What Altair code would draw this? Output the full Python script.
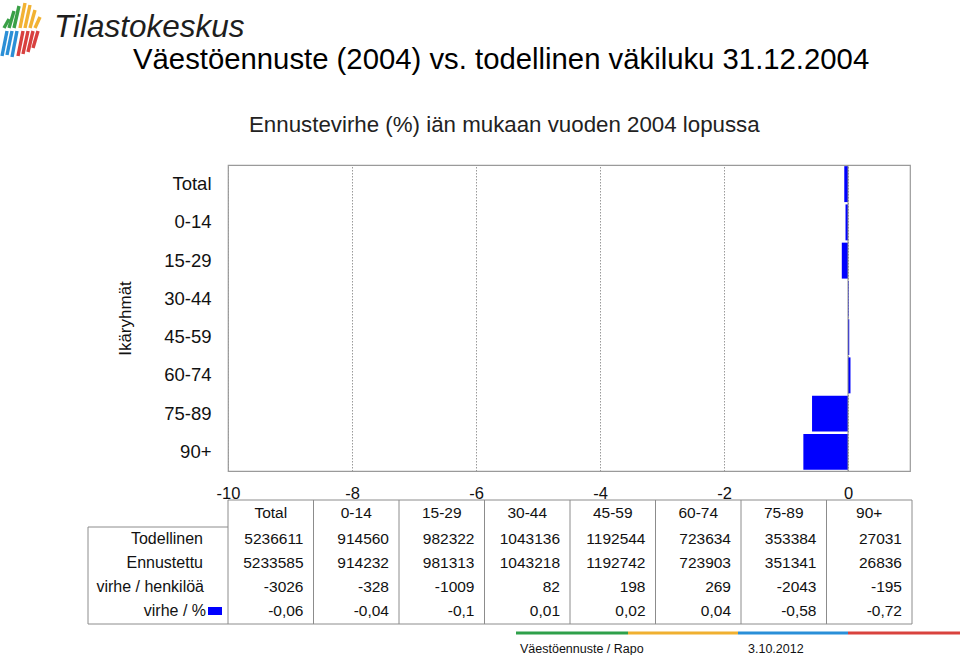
import altair as alt
import pandas as pd

# ---------------- data ----------------
groups = ["Total", "0-14", "15-29", "30-44", "45-59", "60-74", "75-89", "90+"]
todellinen = [5236611, 914560, 982322, 1043136, 1192544, 723634, 353384, 27031]
ennustettu = [5233585, 914232, 981313, 1043218, 1192742, 723903, 351341, 26836]
virhe_hlo = [-3026, -328, -1009, 82, 198, 269, -2043, -195]
virhe_pct = [-0.06, -0.04, -0.1, 0.01, 0.02, 0.04, -0.58, -0.72]
row_labels = ["Todellinen", "Ennustettu", "virhe / henkilöä", "virhe / %"]
x_ticks = [-10, -8, -6, -4, -2, 0]

title_text = "Väestöennuste (2004) vs. todellinen väkiluku 31.12.2004"
subtitle_text = "Ennustevirhe (%) iän mukaan vuoden 2004 lopussa"
footer_left = "Väestöennuste / Rapo"
footer_right = "3.10.2012"
logo_text = "Tilastokeskus"

FONT = "Liberation Sans"
BLUE = "#0000FF"
W, H = 682, 306          # plot area
TW = 684                 # table width
COLW = TW / len(groups)

# ---------------- bar chart ----------------
bars_df = pd.DataFrame({"group": groups, "pct": virhe_pct})

yscale = alt.Scale(domain=groups, paddingInner=0.06, paddingOuter=0.03)
bars = alt.Chart(bars_df).mark_bar(color=BLUE).encode(
    y=alt.Y("group:N", scale=yscale, sort=groups,
            axis=alt.Axis(title="Ikäryhmät", labelFontSize=18.5, labelColor="#111",
                          labelPadding=17, ticks=False, domain=False,
                          titleFontSize=17, titleFontWeight="normal",
                          titleColor="#111", titlePadding=29, labelFont=FONT,
                          titleFont=FONT)),
    x=alt.X("pct:Q", scale=alt.Scale(domain=[-10, 1], nice=False),
            axis=alt.Axis(title=None, values=x_ticks, labelFontSize=16.5,
                          labelColor="#111", labelPadding=14, ticks=False,
                          domain=False, grid=True, gridDash=[1.5, 1.5],
                          gridColor="#9a9a9a", labelFont=FONT, labelFlush=False,
                          labelOverlap=False,
                          labelExpr="'' + datum.value")),
)

zero_rule = alt.Chart(pd.DataFrame({"z": [0]})).mark_rule(
    color="#8c8c8c", strokeWidth=1).encode(
    x=alt.X("z:Q", scale=alt.Scale(domain=[-10, 1], nice=False), axis=None))

# ---------------- table ----------------
rows_long = []
for i, g in enumerate(groups):
    rows_long.append({"group": g, "row": row_labels[0], "txt": str(todellinen[i])})
    rows_long.append({"group": g, "row": row_labels[1], "txt": str(ennustettu[i])})
    rows_long.append({"group": g, "row": row_labels[2], "txt": str(virhe_hlo[i])})
    rows_long.append({"group": g, "row": row_labels[3],
                      "txt": str(virhe_pct[i]).replace(".", ",")})
table_df = pd.DataFrame(rows_long)

tx = alt.X("group:N", scale=alt.Scale(type="point", domain=groups, range=[0, TW],
                                      padding=0.5), axis=None)
ty = alt.Y("row:N", scale=alt.Scale(type="point", domain=row_labels,
                                    range=[374, 446], padding=0), axis=None)

cells = alt.Chart(table_df).mark_text(
    align="right", baseline="middle", dx=COLW / 2 - 10, fontSize=15.5,
    font=FONT, color="#111").encode(x=tx, y=ty, text="txt:N")

headers = alt.Chart(pd.DataFrame({"group": groups})).mark_text(
    align="center", baseline="middle", fontSize=15.5, font=FONT,
    color="#111").encode(x=tx, y=alt.value(348), text="group:N")

rowlab_df = pd.DataFrame({"row": row_labels,
                          "off": [-25, -25, -24, -22]})
rowlabs = alt.Chart(rowlab_df).mark_text(
    align="right", baseline="middle", fontSize=16, font=FONT,
    color="#111").encode(x=alt.X("off:Q", scale=None), y=ty, text="row:N")

swatch = alt.Chart(pd.DataFrame({"row": [row_labels[3]]})).mark_rule(
    color=BLUE, strokeWidth=8).encode(
    x=alt.value(-20), x2=alt.value(-6), y=ty)

# table lines (column boundaries through a linear scale)
bounds = list(range(len(groups) + 1))
vlines = alt.Chart(pd.DataFrame({"b": bounds})).mark_rule(
    color="#8c8c8c", strokeWidth=1).encode(
    x=alt.X("b:Q", scale=alt.Scale(domain=[0, len(groups)], range=[0, TW]),
            axis=None),
    y=alt.value(335), y2=alt.value(459))

hl_df = pd.DataFrame({"x": [0, -140, -140], "x2": [TW, TW, 0],
                      "y": [335, 459, 362]})
hlines = alt.Chart(hl_df).mark_rule(color="#8c8c8c", strokeWidth=1).encode(
    x=alt.X("x:Q", scale=None), x2="x2:Q", y=alt.Y("y:Q", scale=None))
lbox = alt.Chart(pd.DataFrame({"x": [-140]})).mark_rule(
    color="#8c8c8c", strokeWidth=1).encode(
    x=alt.X("x:Q", scale=None), y=alt.value(362), y2=alt.value(459))

# ---------------- titles ----------------
title = alt.Chart(pd.DataFrame({"t": [title_text]})).mark_text(
    align="left", baseline="alphabetic", fontSize=29.3, font=FONT,
    color="#000").encode(x=alt.value(-95), y=alt.value(-96), text="t:N")
subtitle = alt.Chart(pd.DataFrame({"t": [subtitle_text]})).mark_text(
    align="left", baseline="alphabetic", fontSize=22.3, font=FONT,
    color="#222").encode(x=alt.value(249 - 228), y=alt.value(-33), text="t:N")

# ---------------- logo ----------------
logo = alt.Chart(pd.DataFrame({"t": [logo_text]})).mark_text(
    align="left", baseline="alphabetic", fontSize=31.5, font=FONT,
    fontStyle="italic", color="#1e1e1e").encode(
    x=alt.value(-174), y=alt.value(-128), text="t:N")

logo_strokes = pd.DataFrame({
    "x":  [4, 9, 14, 20, 25, 30, 35,  2, 7, 12, 18, 23, 28, 33],
    "x2": [9, 14, 19, 25, 30, 35, 40, 7, 12, 17, 23, 28, 33, 38],
    "y":  [28, 28, 28, 28, 28, 28, 28, 56, 55, 57, 56, 54, 52, 48],
    "y2": [19, 11, 6, 3, 5, 10, 17, 31, 31, 31, 31, 31, 31, 31],
    "c":  ["#3aa047", "#3aa047", "#3aa047", "#f2b233", "#f2b233", "#f2b233", "#f2b233",
           "#2b8fd6", "#2b8fd6", "#2b8fd6", "#d8403f", "#d8403f", "#d8403f", "#d8403f"],
})
logo_df = logo_strokes.assign(x=logo_strokes.x - 228, x2=logo_strokes.x2 - 228,
                              y=logo_strokes.y - 165, y2=logo_strokes.y2 - 165)
logo_marks = alt.Chart(logo_df).mark_rule(strokeWidth=3.4).encode(
    x=alt.X("x:Q", scale=None), x2="x2:Q",
    y=alt.Y("y:Q", scale=None), y2="y2:Q",
    color=alt.Color("c:N", scale=None))

# ---------------- footer ----------------
foot_df = pd.DataFrame({"x": [288, 400, 510, 620], "x2": [400, 510, 620, 732],
                        "c": ["#2ea04a", "#f0b030", "#2a8fd8", "#d9423e"]})
foot_lines = alt.Chart(foot_df).mark_rule(strokeWidth=3).encode(
    x=alt.X("x:Q", scale=None), x2="x2:Q", y=alt.value(468),
    color=alt.Color("c:N", scale=None))
foot_txt = alt.Chart(pd.DataFrame({"t": [footer_left, footer_right],
                                   "x": [292, 520]})).mark_text(
    align="left", baseline="alphabetic", fontSize=12.5, font=FONT,
    color="#111").encode(x=alt.X("x:Q", scale=None), y=alt.value(488), text="t:N")

chart = alt.layer(
    bars, zero_rule, vlines, hlines, lbox, cells, headers, rowlabs, swatch,
    title, subtitle, logo, logo_marks, foot_lines, foot_txt,
).resolve_scale(x="independent", y="independent", color="independent").properties(
    width=W, height=H,
    autosize=alt.AutoSizeParams(type="none"),
    padding={"left": 228, "top": 165, "right": 50, "bottom": 184},
    background="white",
).configure_view(stroke="#9a9a9a", strokeWidth=1.2).configure_axis(
    labelFont=FONT, titleFont=FONT)

chart.save("out.html", embed_options={"renderer": "svg", "actions": False})
